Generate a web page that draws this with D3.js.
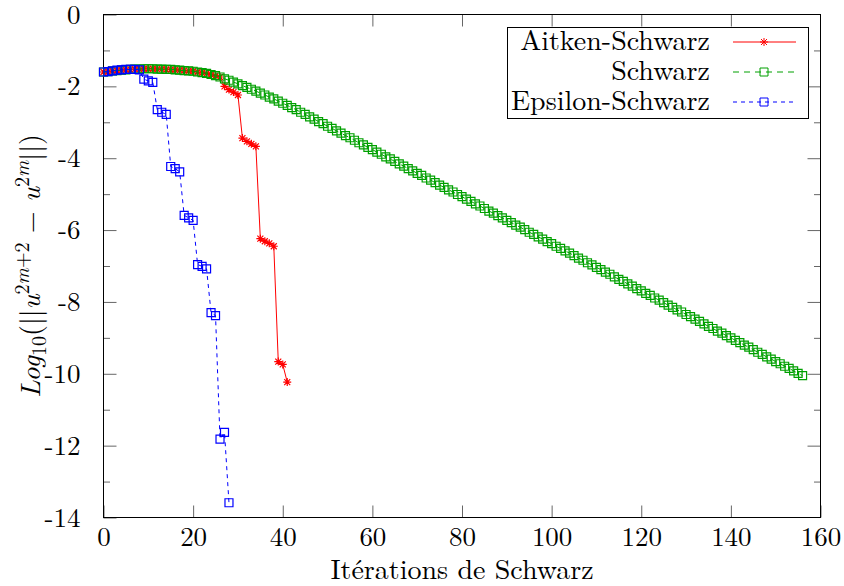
<!DOCTYPE html>
<html>
<head>
<meta charset="utf-8">
<script src="https://cdn.jsdelivr.net/npm/d3@7"></script>
<style>
  body { margin: 0; background: #fff; }
  svg { display: block; }
  svg text { font-family: "Latin Modern Roman", "Liberation Serif", serif; }
</style>
</head>
<body>
<svg id="chart" width="844" height="586"></svg>
<script>
// Convergence history: log10 of the difference between successive Schwarz iterates
const aitken = [
  -1.60, -1.59, -1.57, -1.56, -1.55, -1.54, -1.53, -1.52, -1.52, -1.51,
  -1.51, -1.51, -1.52, -1.52, -1.53, -1.53, -1.54, -1.55, -1.56, -1.57,
  -1.58, -1.60, -1.62, -1.64, -1.67, -1.70, -1.74, -2.00, -2.09, -2.16,
  -2.24, -3.44, -3.53, -3.60, -3.67, -6.24, -6.31, -6.37, -6.45, -9.66,
  -9.74, -10.23
];

const schwarz = [
  -1.60, -1.59, -1.57, -1.56, -1.55, -1.54, -1.53, -1.52, -1.52, -1.51,
  -1.51, -1.51, -1.52, -1.52, -1.53, -1.53, -1.54, -1.55, -1.56, -1.57,
  -1.58, -1.60, -1.62, -1.64, -1.67, -1.70, -1.74, -1.79, -1.83, -1.88,
  -1.93, -1.98, -2.03, -2.08, -2.13, -2.19, -2.24, -2.30, -2.35, -2.41,
  -2.47, -2.53, -2.59, -2.65, -2.72, -2.78, -2.85, -2.91, -2.98, -3.04,
  -3.11, -3.17, -3.24, -3.30, -3.37, -3.43, -3.50, -3.57, -3.63, -3.70,
  -3.76, -3.83, -3.89, -3.96, -4.02, -4.09, -4.16, -4.22, -4.29, -4.35,
  -4.42, -4.48, -4.55, -4.61, -4.68, -4.75, -4.81, -4.88, -4.94, -5.01,
  -5.07, -5.14, -5.20, -5.27, -5.33, -5.40, -5.47, -5.53, -5.60, -5.66,
  -5.73, -5.79, -5.86, -5.92, -5.99, -6.06, -6.12, -6.19, -6.25, -6.32,
  -6.38, -6.45, -6.51, -6.58, -6.64, -6.71, -6.78, -6.84, -6.91, -6.97,
  -7.04, -7.10, -7.17, -7.23, -7.30, -7.37, -7.43, -7.50, -7.56, -7.63,
  -7.69, -7.76, -7.82, -7.89, -7.95, -8.02, -8.09, -8.15, -8.22, -8.28,
  -8.35, -8.41, -8.48, -8.54, -8.61, -8.68, -8.74, -8.81, -8.87, -8.94,
  -9.00, -9.07, -9.13, -9.20, -9.26, -9.33, -9.40, -9.46, -9.53, -9.59,
  -9.66, -9.72, -9.79, -9.85, -9.92, -9.99, -10.05
];

const epsilon = [
  -1.60, -1.59, -1.57, -1.55, -1.54, -1.53, -1.53, -1.53, -1.54, -1.80,
  -1.85, -1.89, -2.65, -2.72, -2.78, -4.23, -4.29, -4.38, -5.59, -5.66,
  -5.73, -6.96, -7.01, -7.08, -8.30, -8.38, -11.82, -11.63, -13.59
];

const seriesNames = ["Aitken-Schwarz", "Schwarz", "Epsilon-Schwarz"];
const xTicks = [0, 20, 40, 60, 80, 100, 120, 140, 160];
const yTicks = [0, -2, -4, -6, -8, -10, -12, -14];
const yMinorTicks = [-1, -3, -5, -7, -9, -11, -13];

const RED = "#ff0000", GREEN = "#00a000", BLUE = "#0000ff";

const svg = d3.select("#chart");
const x = d3.scaleLinear().domain([0, 160]).range([103.5, 820.5]);
const y = d3.scaleLinear().domain([0, -14]).range([14.5, 517.5]);
const [x0, x1] = x.range();
const [y0, y1] = y.range();

function styleAxis(g) {
  g.attr("font-family", null).attr("font-size", null);
  g.select(".domain").remove();
  g.selectAll(".tick line").attr("stroke", "#666").attr("stroke-width", 1);
  g.selectAll(".tick text")
    .attr("fill", "#000")
    .style("font-size", "27px");
}

// bottom / top axes (ticks point into the plot)
svg.append("g").attr("transform", `translate(0,${y1})`)
  .call(d3.axisBottom(x).tickValues(xTicks).tickSizeInner(-12).tickSizeOuter(0)
    .tickPadding(9).tickFormat(d => String(d)))
  .call(styleAxis);
svg.append("g").attr("transform", `translate(0,${y0})`)
  .call(d3.axisTop(x).tickValues(xTicks.slice(1, -1)).tickSizeInner(-12).tickSizeOuter(0).tickFormat(""))
  .call(styleAxis);

// left / right axes with major and minor ticks
svg.append("g").attr("transform", `translate(${x0},0)`)
  .call(d3.axisLeft(y).tickValues(yTicks).tickSizeInner(-13).tickSizeOuter(0)
    .tickPadding(23).tickFormat(d => String(d)))
  .call(styleAxis);
svg.append("g").attr("transform", `translate(${x0},0)`)
  .call(d3.axisLeft(y).tickValues(yMinorTicks).tickSizeInner(-6.5).tickSizeOuter(0).tickFormat(""))
  .call(styleAxis);
svg.append("g").attr("transform", `translate(${x1},0)`)
  .call(d3.axisRight(y).tickValues(yTicks.slice(1, -1)).tickSizeInner(-13).tickSizeOuter(0).tickFormat(""))
  .call(styleAxis);
svg.append("g").attr("transform", `translate(${x1},0)`)
  .call(d3.axisRight(y).tickValues(yMinorTicks).tickSizeInner(-6.5).tickSizeOuter(0).tickFormat(""))
  .call(styleAxis);

// plot frame
svg.append("rect")
  .attr("x", x0).attr("y", y0)
  .attr("width", x1 - x0).attr("height", y1 - y0)
  .attr("fill", "none").attr("stroke", "#000").attr("stroke-width", 1);

// marker shapes
const squarePath = "M-4,-4h8v8h-8Z";
const starPath = "M-4,0H4M0,-4V4M-3,-3L3,3M-3,3L3,-3";

const line = d3.line().x((d, i) => x(i)).y(d => y(d));

const series = [
  { name: seriesNames[0], values: aitken, color: RED, dash: null, marker: starPath },
  { name: seriesNames[1], values: schwarz, color: GREEN, dash: "6,5", marker: squarePath },
  { name: seriesNames[2], values: epsilon, color: BLUE, dash: "4,4", marker: squarePath }
];

const plot = svg.append("g");
series.forEach(s => {
  const g = plot.append("g");
  g.append("path")
    .datum(s.values)
    .attr("d", line)
    .attr("fill", "none")
    .attr("stroke", s.color)
    .attr("stroke-width", 1)
    .attr("stroke-dasharray", s.dash);
  g.selectAll("path.pt")
    .data(s.values)
    .join("path")
    .attr("class", "pt")
    .attr("transform", (d, i) => `translate(${x(i)},${y(d)})`)
    .attr("d", s.marker)
    .attr("fill", "none")
    .attr("stroke", s.color)
    .attr("stroke-width", 1.2);
});

// legend
const legend = svg.append("g");
legend.append("rect")
  .attr("x", 507.5).attr("y", 27.5).attr("width", 301).attr("height", 91)
  .attr("fill", "#fff").attr("stroke", "#000").attr("stroke-width", 1);
series.forEach((s, k) => {
  const cy = 42 + k * 30;
  legend.append("text")
    .attr("x", 710).attr("y", cy + 8)
    .attr("text-anchor", "end")
    .style("font-size", "28px")
    .text(s.name);
  legend.append("line")
    .attr("x1", 733).attr("x2", 796).attr("y1", cy).attr("y2", cy)
    .attr("stroke", s.color).attr("stroke-width", 1)
    .attr("stroke-dasharray", s.dash);
  legend.append("path")
    .attr("transform", `translate(764,${cy})`)
    .attr("d", s.marker)
    .attr("fill", "none").attr("stroke", s.color).attr("stroke-width", 1);
});

// x axis title
svg.append("text")
  .attr("x", (x0 + x1) / 2).attr("y", 579)
  .attr("text-anchor", "middle")
  .style("font-size", "28px")
  .text("Itérations de Schwarz");

// y axis title: Log10(||u^{2m+2} − u^{2m}||)
const yl = svg.append("text")
  .attr("transform", `translate(40,${(y0 + y1) / 2}) rotate(-90)`)
  .attr("text-anchor", "middle")
  .style("font-size", "28px");
yl.append("tspan").style("font-style", "italic").text("Log");
yl.append("tspan").attr("dy", 6).style("font-size", "20px").text("10");
yl.append("tspan").attr("dy", -6).text("(||");
yl.append("tspan").style("font-style", "italic").text("u");
yl.append("tspan").attr("dy", -11).style("font-size", "20px").text("2");
yl.append("tspan").style("font-size", "20px").style("font-style", "italic").text("m");
yl.append("tspan").style("font-size", "20px").text("+2");
yl.append("tspan").attr("dy", 11).text(" \u2212 ");
yl.append("tspan").style("font-style", "italic").text("u");
yl.append("tspan").attr("dy", -11).style("font-size", "20px").text("2");
yl.append("tspan").style("font-size", "20px").style("font-style", "italic").text("m");
yl.append("tspan").attr("dy", 11).text("||)");
</script>
</body>
</html>
